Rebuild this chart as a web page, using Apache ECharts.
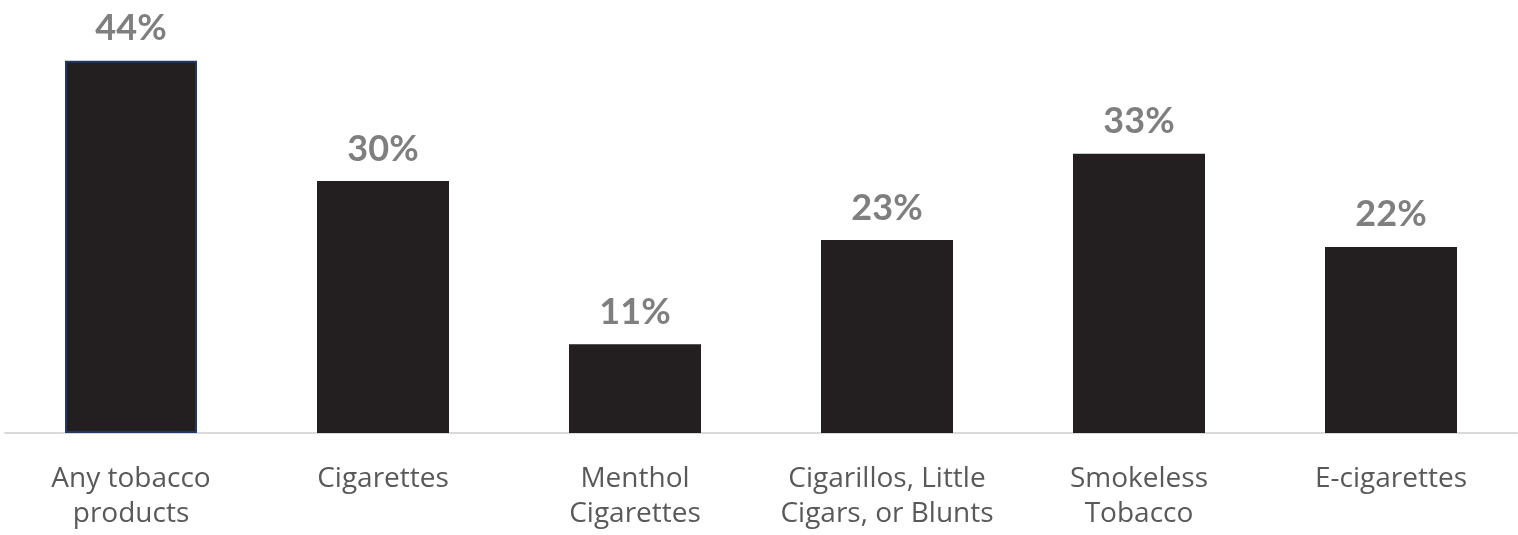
<!DOCTYPE html>
<html>
<head>
<meta charset="utf-8">
<script src="https://cdn.jsdelivr.net/npm/echarts@6/dist/echarts.min.js"></script>
<style>html,body{margin:0;padding:0;background:#fff}#c{width:1518px;height:535px}</style>
</head>
<body>
<div id="c"></div>
<script>
var categories = ["Any tobacco\nproducts", "Cigarettes", "Menthol\nCigarettes", "Cigarillos, Little\nCigars, or Blunts", "Smokeless\nTobacco", "E-cigarettes"];
var values = [44, 29.8, 10.5, 22.8, 33, 22];
var valueLabels = ["44%", "30%", "11%", "23%", "33%", "22%"];

var chart = echarts.init(document.getElementById('c'), null, {renderer: 'canvas'});
chart.setOption({
  animation: false,
  backgroundColor: '#ffffff',
  grid: {left: 5, right: 1, top: 10, bottom: 102, containLabel: false},
  xAxis: {
    type: 'category',
    data: categories,
    axisTick: {show: false},
    axisLine: {lineStyle: {color: '#d9d9d9', width: 2}},
    axisLabel: {
      interval: 0,
      margin: 29,
      color: '#595959',
      fontFamily: 'Open Sans',
      fontSize: 28,
      lineHeight: 35
    }
  },
  yAxis: {
    type: 'value', min: 0, max: 50,
    show: false,
    splitLine: {show: false}
  },
  series: [{
    type: 'bar',
    barWidth: 132,
    data: values.map(function (v, i) {
      var d = {value: v};
      if (i === 0) d.itemStyle = {borderColor: '#1f3864', borderWidth: 2};
      return d;
    }),
    itemStyle: {color: '#231f20'},
    label: {
      show: true,
      position: 'top',
      distance: 14,
      color: '#7f7f7f',
      fontFamily: 'Lato',
      fontWeight: 'bold',
      fontSize: 36,
      formatter: function (p) { return valueLabels[p.dataIndex]; }
    }
  }]
});
</script>
</body>
</html>
